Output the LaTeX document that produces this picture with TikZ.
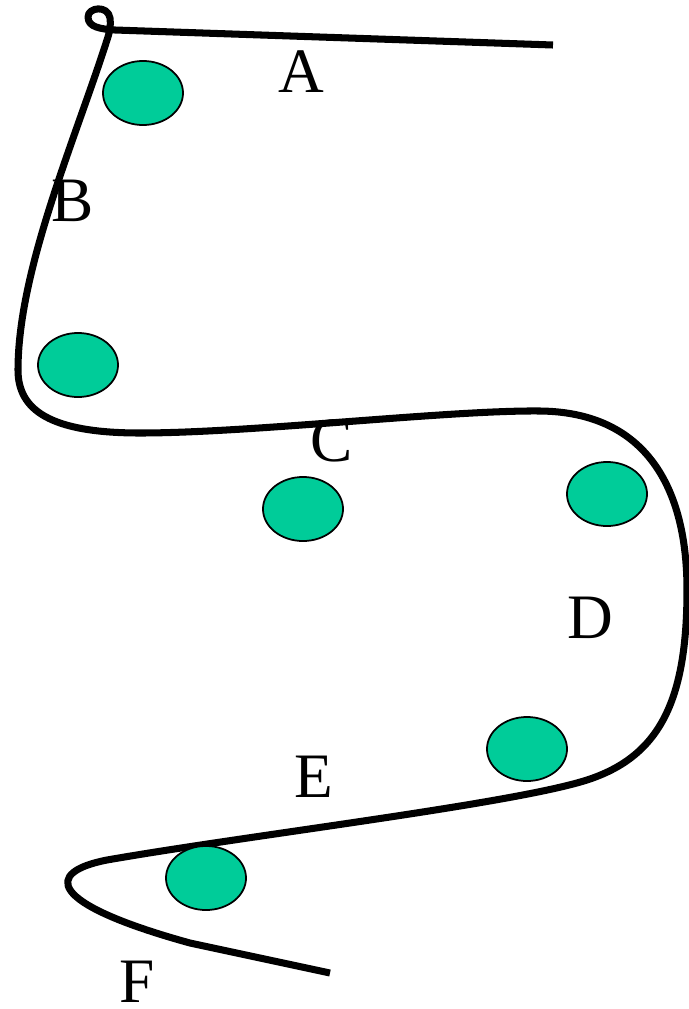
\documentclass[tikz,border=0pt]{standalone}
\usepackage{fontspec}
\setmainfont{Liberation Serif}
\usepackage{xcolor}
\definecolor{seed}{HTML}{00CC99}
\usetikzlibrary{shapes.geometric}

\begin{document}
\begin{tikzpicture}[x=0.01cm,y=-0.01cm,
blob/.style={ellipse,draw,line width=0.5pt,fill=seed,minimum width=0.8cm,minimum height=0.64cm,inner sep=0pt},
lab/.style={font=\fontsize{18}{20}\selectfont,inner sep=0pt}]
\useasboundingbox (0,0) rectangle (689,1009);
% the strand
\draw[line width=2pt,line join=round]
(553,45)--(115,30)
.. controls (100,29) and (88,27) .. (88,17)
.. controls (88,7) and (108,5) .. (110,18)
.. controls (111,25) and (110,31) .. (107,40)
.. controls (75,140) and (18,270) .. (18,370)
.. controls (18,410) and (50,433) .. (140,433)
.. controls (250,433) and (450,410) .. (540,411)
.. controls (640,412) and (687,480) .. (687,590)
.. controls (687,700) and (660,755) .. (590,779)
.. controls (520,803) and (250,835) .. (107,860)
.. controls (45,872) and (45,903) .. (190,943)
-- (330,973);
% beads
\node[blob] (b1) at (143,93) {};
\node[blob] (b2) at (78,365) {};
\node[blob] (b3) at (303,509) {};
\node[blob] (b4) at (607,494) {};
\node[blob] (b5) at (527,749) {};
\node[blob] (b6) at (206,878) {};
% letters
\node[lab] (A) at (301,72) {A};
\node[lab] (B) at (73,201) {B};
\node[lab] (C) at (332,441) {C};
\node[lab] (D) at (590,618) {D};
\node[lab] (E) at (314,777) {E};
\node[lab] (F) at (137,982) {F};
\end{tikzpicture}
\end{document}
